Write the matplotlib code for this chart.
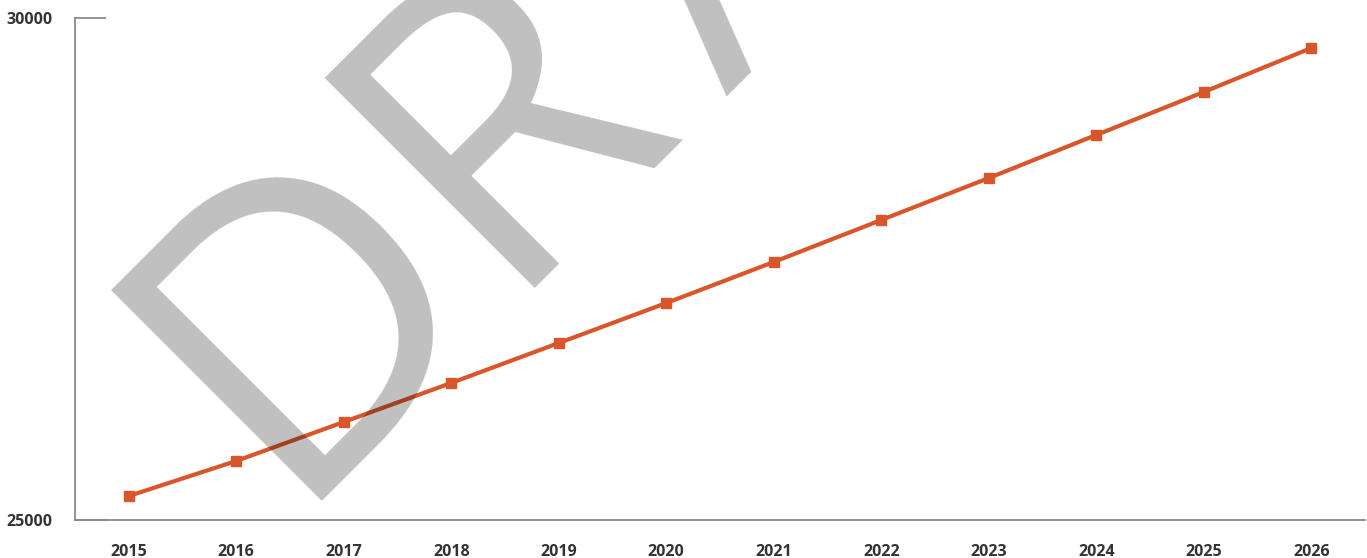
import math
import matplotlib
matplotlib.use("Agg")
import matplotlib.pyplot as plt

years = ["2015", "2016", "2017", "2018", "2019", "2020",
         "2021", "2022", "2023", "2024", "2025", "2026"]
values = [25239, 25588, 25976, 26365, 26763, 27161,
          27570, 27988, 28406, 28835, 29263, 29701]
y_ticks = [25000, 30000]
watermark_parts = ["DR", "AFT"]

W, H = 1367, 558
fig = plt.figure(figsize=(W / 100, H / 100), dpi=100)
ax = fig.add_axes([75 / W, 1 - 520 / H, (1365 - 75) / W, (520 - 18) / H])

x = list(range(len(years)))
line_color = "#D9562A"
ax.plot(x, values, color=line_color, lw=3.0, zorder=2, solid_capstyle="butt")
ax.plot(x, values, ls="none", marker="s", ms=7.5, color=line_color,
        mec=line_color, zorder=4)

ax.set_xlim(-0.5, len(years) - 0.5)
ax.set_ylim(25000, 30000)
ax.set_xticks(x)
ax.set_xticklabels(years)
ax.set_yticks(y_ticks)
ax.set_yticklabels([str(v) for v in y_ticks])

for s in ["top", "right"]:
    ax.spines[s].set_visible(False)
for s in ["left", "bottom"]:
    ax.spines[s].set_color("#8a8a8a")
    ax.spines[s].set_linewidth(1.3)

ax.tick_params(axis="y", direction="in", length=22, width=1.3, color="#8a8a8a",
               pad=16)
ax.tick_params(axis="x", length=0, pad=17)
for lab in ax.get_xticklabels() + ax.get_yticklabels():
    lab.set_fontfamily("Open Sans")
    lab.set_fontweight("bold")
    lab.set_fontsize(11.5)
    lab.set_color("#333333")

# watermark (semi-transparent, over the line but under the markers)
wm_kw = dict(rotation=45, rotation_mode="anchor", ha="left", va="baseline",
             fontsize=300, fontfamily="Open Sans", color="black", alpha=0.25,
             zorder=3, clip_on=False)
ox, oy = 281, 501  # pixel coords from top-left
renderer = fig.canvas.get_renderer()
tmp = fig.text(0, 0, watermark_parts[0], fontsize=300, fontfamily="Open Sans")
w0 = tmp.get_window_extent(renderer).width
tmp.remove()
ax.text(ox / W, 1 - oy / H, watermark_parts[0], transform=fig.transFigure, **wm_kw)
d = w0 + 57
c = math.cos(math.radians(45))
ax2x, ax2y = ox + d * c + 10, oy - d * c + 30
ax.text(ax2x / W, 1 - ax2y / H, watermark_parts[1], transform=fig.transFigure, **wm_kw)

fig.savefig("out.png", dpi=100)
